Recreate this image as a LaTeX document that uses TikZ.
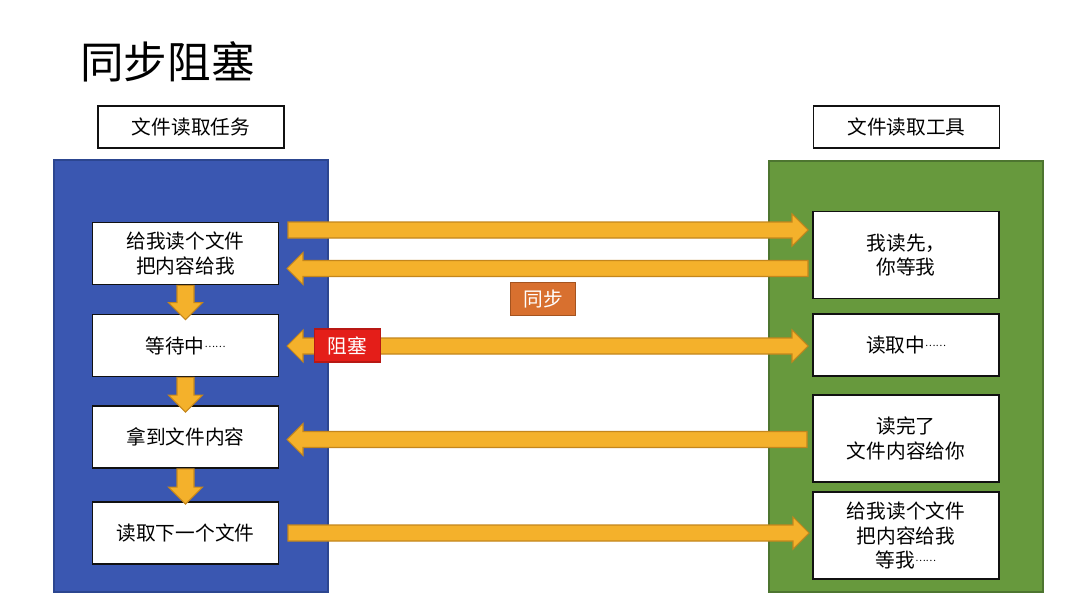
\documentclass[tikz,border=0pt]{standalone}
\usepackage{fontspec}
\setmainfont{Noto Sans CJK SC}
\usepackage{xcolor}
\usetikzlibrary{calc,positioning}
\definecolor{syncblue}{HTML}{3A57B1}
\definecolor{syncblueline}{HTML}{2C4690}
\definecolor{syncgreen}{HTML}{67993D}
\definecolor{syncgreenline}{HTML}{4D7530}
\definecolor{syncarrow}{HTML}{F4B12B}
\definecolor{syncarrowline}{HTML}{C4861C}
\definecolor{syncorange}{HTML}{D8702F}
\definecolor{syncorangeline}{HTML}{A4531F}
\definecolor{syncred}{HTML}{E41E19}
\definecolor{syncredline}{HTML}{B81814}
\definecolor{syncink}{HTML}{111111}

% small tight ellipsis, set at mid height
\newcommand{\waitdots}{\raisebox{3.3pt}{\fontsize{5.6}{14}\selectfont ……}}
% horizontal block arrow: #1 tail, #2 tip, #3 signed head length
\newcommand{\hblock}[3]{%
  \draw[blockarrow] ($(#1)+(0,-8)$) -- ($(#2)-(#3,0)+(0,-8)$) -- ($(#2)-(#3,0)+(0,-16)$)
    -- (#2) -- ($(#2)-(#3,0)+(0,16)$) -- ($(#2)-(#3,0)+(0,8)$) -- ($(#1)+(0,8)$) -- cycle;}
% vertical block arrow, pointing down: #1 tail, #2 tip
\newcommand{\vblock}[2]{%
  \draw[blockarrow] ($(#1)+(-8.5,0)$) -- ($(#2)+(-8.5,-17)$) -- ($(#2)+(-17,-17)$)
    -- (#2) -- ($(#2)+(17,-17)$) -- ($(#2)+(8.5,-17)$) -- ($(#1)+(8.5,0)$) -- cycle;}

\begin{document}
\begin{tikzpicture}[
    x=0.02cm,
    y=-0.02cm,
    blockarrow/.style={fill=syncarrow, draw=syncarrowline, line width=0.6pt, line join=miter},
    stepbox/.style={rectangle, draw=syncink, fill=white, line width=0.95pt, inner sep=2pt,
      minimum width=3.72cm, minimum height=1.24cm, align=center,
      font=\fontsize{11.2}{14}\selectfont, text=black},
    tallbox/.style={stepbox, minimum height=1.74cm},
    headbox/.style={rectangle, draw=syncink, fill=white, line width=0.8pt,
      minimum width=3.72cm, minimum height=0.84cm, font=\fontsize{11.2}{14}\selectfont},
    tag/.style={rectangle, line width=0.6pt, minimum width=1.31cm, minimum height=0.66cm,
      inner sep=0pt, text=white, font=\fontsize{11.2}{14}\selectfont}
  ]
    \useasboundingbox (0,0) rectangle (1069,615);
    \fill[white] (0,0) rectangle (1069,615);

    \node[anchor=west, inner sep=0pt, font=\fontsize{24.8}{28}\selectfont] (title) at (80,62) {同步阻塞};

    % 1. Panels and headers
    \filldraw[fill=syncblue, draw=syncblueline, line width=0.8pt] (54,160) rectangle (328,592);
    \filldraw[fill=syncgreen, draw=syncgreenline, line width=0.8pt] (769,161) rectangle (1043,592);

    \node[headbox] (H-task) at (191,127) {文件读取任务};
    \node[headbox] (H-tool) at (906.5,127) {文件读取工具};

    % 2. Task steps (left)
    \node[stepbox] (T-ask) at (185.5,253.5) {给我读个文件\\把内容给我};
    \node[stepbox] (T-wait) at (185.5,345.5) {等待中\waitdots};
    \node[stepbox] (T-get) at (185.5,437) {拿到文件内容};
    \node[stepbox] (T-next) at (185.5,533) {读取下一个文件};

    % 3. Tool steps (right)
    \node[tallbox] (R-first) at (906,255) {我读先，\\你等我};
    \node[stepbox] (R-read) at (906,345) {读取中\waitdots};
    \node[tallbox] (R-done) at (906,438.5) {读完了\\文件内容给你};
    \node[tallbox] (R-again) at (906,535.5) {给我读个文件\\把内容给我\\等我\waitdots};

    % 4. Downward flow between task steps
    \vblock{T-ask.south}{$(T-wait.north)+(0,6)$}
    \vblock{T-wait.south}{$(T-get.north)+(0,7)$}
    \vblock{T-get.south}{$(T-next.north)+(0,3)$}

    % 5. Calls across
    \coordinate (A-ask-from) at (288,230);
    \coordinate (A-ask-to) at (808,230);
    \coordinate (A-wait-from) at (808,268.5);
    \coordinate (A-wait-to) at (287,268.5);
    \coordinate (A-block-l) at (287,346);
    \coordinate (A-block-r) at (808,346);
    \coordinate (A-done-from) at (807,439.5);
    \coordinate (A-done-to) at (287,439.5);
    \coordinate (A-next-from) at (288,533);
    \coordinate (A-next-to) at (809,533);

    \hblock{A-ask-from}{A-ask-to}{16}
    \hblock{A-wait-from}{A-wait-to}{-16}
    \hblock{A-done-from}{A-done-to}{-16}
    \hblock{A-next-from}{A-next-to}{16}

    % double headed arrow
    \draw[blockarrow] ($(A-block-l)+(16,-8)$) -- ($(A-block-r)+(-16,-8)$) -- ($(A-block-r)+(-16,-16)$)
      -- (A-block-r) -- ($(A-block-r)+(-16,16)$) -- ($(A-block-r)+(-16,8)$) -- ($(A-block-l)+(16,8)$)
      -- ($(A-block-l)+(16,16)$) -- (A-block-l) -- ($(A-block-l)+(16,-16)$) -- cycle;

    % 6. Tags
    \node[tag, fill=syncorange, draw=syncorangeline] (L-sync) at (543,299) {同步};
    \node[tag, fill=syncred, draw=syncredline] (L-block) at (347.5,345.5) {阻塞};

  \end{tikzpicture}
\end{document}
